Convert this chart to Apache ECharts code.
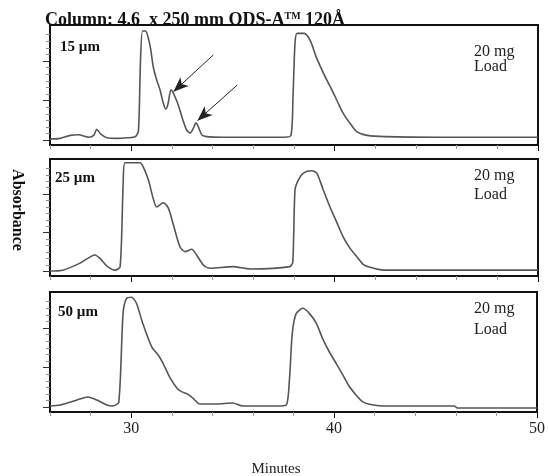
<!DOCTYPE html>
<html>
<head>
<meta charset="utf-8">
<script src="https://cdn.jsdelivr.net/npm/echarts@6/dist/echarts.min.js"></script>
<style>
  html, body { margin: 0; padding: 0; background: #fff; }
  #chart { width: 548px; height: 476px; }
</style>
</head>
<body>
<div id="chart"></div>
<script>
// retention time (minutes) and relative absorbance (0 = panel floor, 100 = panel top)
const time15 = [26.0, 26.5, 27.0, 27.4, 27.9, 28.15, 28.3, 28.5, 28.8, 29.3, 29.8, 30.2, 30.35, 30.45, 30.55, 30.7, 30.85, 30.95, 31.08, 31.25, 31.41, 31.57, 31.69, 31.8, 31.95, 32.1, 32.25, 32.39, 32.55, 32.72, 32.89, 33.05, 33.18, 33.3, 33.46, 33.7, 34.5, 36.0, 37.5, 37.85, 37.95, 38.05, 38.15, 38.5, 38.8, 39.1, 39.5, 39.8, 40.1, 40.4, 40.8, 41.1, 41.6, 42.5, 45.0, 50.0];
const abs15  = [5, 5.5, 8, 8.5, 6.5, 8, 13, 9, 6, 5.5, 6, 7, 12, 70, 95, 95, 88, 80, 65, 54, 46, 35, 30, 34, 46, 42, 36, 29, 20, 12.5, 10, 14, 18.5, 15, 8.5, 7, 6.5, 6.5, 6.5, 8, 40, 85, 93, 93, 87, 73, 58, 48, 37.5, 27, 17, 11, 8, 7, 6.5, 6.5];

const time25 = [26.0, 26.64, 27.48, 28.21, 28.46, 28.8, 29.2, 29.45, 29.6, 29.69, 30.43, 30.59, 30.84, 31.08, 31.25, 31.57, 31.82, 32.07, 32.39, 32.64, 32.97, 33.21, 33.54, 33.87, 35.0, 35.84, 37.8, 37.94, 38.05, 38.21, 38.46, 38.87, 39.12, 39.44, 39.77, 40.1, 40.43, 40.76, 41.09, 41.4, 41.74, 42.4, 45.0, 50.0];
const abs25  = [4.3, 5, 11, 18, 15, 8.5, 5, 8, 80, 96.8, 96.8, 93, 82, 66, 59, 62.6, 58, 43.6, 25, 20.8, 22.8, 18, 9.4, 6.6, 8, 6, 8, 12, 73.5, 82, 88, 90, 88, 73.5, 59, 46, 33, 23.6, 16.5, 10, 7.4, 5, 5, 5];

const time50 = [26.0, 26.49, 27.33, 27.87, 28.31, 28.8, 29.1, 29.39, 29.6, 29.77, 30.02, 30.26, 30.57, 31.02, 31.33, 31.56, 31.9, 32.25, 32.48, 32.8, 33.03, 33.38, 34.2, 35.0, 35.5, 37.17, 37.64, 37.8, 37.94, 38.13, 38.46, 38.79, 39.12, 39.44, 39.77, 40.1, 40.43, 40.76, 41.09, 41.4, 41.74, 42.4, 45.92, 46.1, 50.0];
const abs50  = [5, 5.8, 10, 12.5, 10, 5.8, 5, 8.3, 82, 94.7, 95.6, 90.6, 74, 54, 47.5, 41, 29, 20, 17, 14.7, 11.7, 6.7, 6.7, 7.5, 5, 5, 5.8, 27, 65.6, 82, 86.4, 82, 74, 61, 50, 40.6, 31, 21, 14, 8.6, 6.4, 5, 5, 3.3, 3.3];

const particleSizes = ['15 µm', '25 µm', '50 µm'];
const loadLines = ['20 mg', 'Load'];

// arrows in the 15 µm trace: [fromTime, fromAbs, toTime, toAbs]
const arrows15 = [[34.03, 75, 32.07, 44.4], [35.21, 50, 33.25, 20.3]];

const xLabelTicks = [30, 40, 50];
const xMinorTicks = [26, 28, 32, 34, 36, 38, 42, 44, 46, 48];
const yMajorTicks = [4, 37, 70];
const yMinorTicks = [9.5, 15, 20.5, 26, 31.5, 42.5, 48, 53.5, 59, 64.5, 75.5, 81, 86.5, 92];

const serif = 'Liberation Serif';
const traces = [[time15, abs15], [time25, abs25], [time50, abs50]];
const panelBoxes = [
  { top: 25, height: 120 },
  { top: 159, height: 117 },
  { top: 292, height: 120 },
];
const loadTextY = [[52, 67], [176, 195], [309, 330]];
const sizeTextY = [47, 178, 312];

const chart = echarts.init(document.getElementById('chart'));

const grid = panelBoxes.map((p) => ({
  left: 50,
  right: 10,
  top: p.top,
  height: p.height,
  show: true,
  borderColor: '#111',
  borderWidth: 2,
}));

const xAxis = [];
const yAxis = [];
panelBoxes.forEach((p, i) => {
  xAxis.push({
    gridIndex: i, type: 'value', min: 26, max: 50, position: 'bottom',
    axisLine: { show: true, lineStyle: { color: '#111', width: 2 } },
    axisTick: { show: true, customValues: xMinorTicks, length: 4, lineStyle: { color: '#999' } },
    axisLabel: { show: false },
    splitLine: { show: false },
  });
  xAxis.push({
    gridIndex: i, type: 'value', min: 26, max: 50, position: 'bottom',
    axisLine: { show: false },
    axisTick: { show: true, customValues: xLabelTicks, length: 6, lineStyle: { color: '#111' } },
    axisLabel: {
      show: i === 2, customValues: xLabelTicks, margin: 9,
      fontFamily: serif, fontSize: 16, color: '#222',
    },
    splitLine: { show: false },
  });
  yAxis.push({
    gridIndex: i, type: 'value', min: 0, max: 100, position: 'left',
    axisLine: { show: false },
    axisTick: { show: true, customValues: yMinorTicks, length: 4, lineStyle: { color: '#888' } },
    axisLabel: { show: false },
    splitLine: { show: false },
  });
  yAxis.push({
    gridIndex: i, type: 'value', min: 0, max: 100, position: 'left',
    axisLine: { show: false },
    axisTick: { show: true, customValues: yMajorTicks, length: 7, lineStyle: { color: '#333' } },
    axisLabel: { show: false },
    splitLine: { show: false },
  });
});

const series = traces.map((t, i) => ({
  type: 'line',
  xAxisIndex: i * 2,
  yAxisIndex: i * 2,
  data: t[0].map((x, k) => [x, t[1][k]]),
  showSymbol: false,
  smooth: 0.25,
  lineStyle: { color: '#555', width: 1.6 },
}));

series[0].markLine = {
  silent: true,
  symbol: ['none', 'arrow'],
  symbolSize: [9, 15],
  label: { show: false },
  lineStyle: { color: '#222', width: 1, type: 'solid' },
  data: arrows15.map((a) => [{ coord: [a[0], a[1]] }, { coord: [a[2], a[3]] }]),
};

const graphic = [];
particleSizes.forEach((s, i) => {
  graphic.push({
    type: 'text', x: [60, 55, 58][i], y: sizeTextY[i],
    style: { text: s, font: 'bold 15px "Liberation Serif"', fill: '#111', verticalAlign: 'middle' },
  });
  loadLines.forEach((l, j) => {
    graphic.push({
      type: 'text', x: 474, y: loadTextY[i][j],
      style: { text: l, font: '16px "Liberation Serif"', fill: '#222', verticalAlign: 'middle' },
    });
  });
});
graphic.push({
  type: 'text', x: 17, y: 210, rotation: -Math.PI / 2,
  style: { text: 'Absorbance', font: 'bold 16px "Liberation Serif"', fill: '#111', align: 'center', verticalAlign: 'middle' },
});
graphic.push({
  type: 'text', x: 276, y: 469,
  style: { text: 'Minutes', font: '15px "Liberation Serif"', fill: '#222', align: 'center', verticalAlign: 'middle' },
});

chart.setOption({
  animation: false,
  title: {
    text: '{a|Column: 4.6  x 250 mm ODS-A}{t|TM}{a| 120Å}',
    left: 45,
    top: 11,
    padding: 0,
    textStyle: {
      rich: {
        a: { fontFamily: serif, fontSize: 18, fontWeight: 'bold', color: '#111' },
        t: { fontFamily: serif, fontSize: 10, color: '#111', verticalAlign: 'top' },
      },
    },
  },
  grid,
  xAxis,
  yAxis,
  series,
  graphic,
});
</script>
</body>
</html>
